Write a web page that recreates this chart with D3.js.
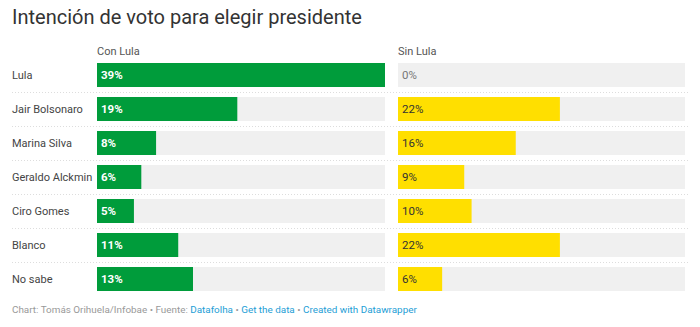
<!DOCTYPE html>
<html lang="es">
<head>
  <meta charset="UTF-8">
  <title>Intención de voto</title>
  <script src="https://d3js.org/d3.v7.min.js"></script>
  <style>
    body { margin: 0; background: #fff; font-family: Roboto, sans-serif; }
  </style>
</head>
<body>
  <div id="chart"></div>
  <script>
    // Data
    const candidates = ["Lula", "Jair Bolsonaro", "Marina Silva", "Geraldo Alckmin", "Ciro Gomes", "Blanco", "No sabe"];
    const conLula = [39, 19, 8, 6, 5, 11, 13];
    const sinLula = [0, 22, 16, 9, 10, 22, 6];
    const columns = ["Con Lula", "Sin Lula"];

    const width = 700, height = 327;
    const svg = d3.select("#chart").append("svg")
      .attr("width", width).attr("height", height);

    // Title
    svg.append("text")
      .attr("x", 12).attr("y", 24)
      .style("font-size", "20px")
      .attr("fill", "#333")
      .text("Intención de voto para elegir presidente");

    const y = d3.scaleBand()
      .domain(candidates)
      .range([58, 296])
      .paddingInner(0.294)
      .paddingOuter(0.147);

    const panels = [
      { name: columns[0], values: conLula, x0: 97, x1: 385, color: "#009c3b", text: "#fff", weight: "bold" },
      { name: columns[1], values: sinLula, x0: 398, x1: 685, color: "#ffdf00", text: "#333", weight: "normal" }
    ];

    // Row separators
    candidates.slice(0, -1).forEach(c => {
      const yy = y(c) + y.bandwidth() + (y.step() - y.bandwidth()) / 2;
      svg.append("line")
        .attr("x1", 12).attr("x2", 688)
        .attr("y1", Math.round(yy) + 0.5).attr("y2", Math.round(yy) + 0.5)
        .attr("stroke", "#ddd")
        .attr("stroke-dasharray", "1,2");
    });

    // Row labels
    svg.selectAll(".label")
      .data(candidates)
      .join("text")
      .attr("x", 12)
      .attr("y", d => y(d) + y.bandwidth() / 2)
      .attr("dy", "0.35em")
      .style("font-size", "11px")
      .attr("fill", "#444")
      .text(d => d);

    panels.forEach(p => {
      const x = d3.scaleLinear().domain([0, 39]).range([p.x0, p.x1]);
      const g = svg.append("g");

      g.append("text")
        .attr("x", p.x0).attr("y", 55)
        .style("font-size", "11px")
        .attr("fill", "#555")
        .text(p.name);

      g.selectAll(".bg")
        .data(candidates)
        .join("rect")
        .attr("x", p.x0)
        .attr("y", d => y(d))
        .attr("width", p.x1 - p.x0)
        .attr("height", y.bandwidth())
        .attr("fill", "#f0f0f0");

      g.selectAll(".bar")
        .data(p.values)
        .join("rect")
        .attr("x", p.x0)
        .attr("y", (d, i) => y(candidates[i]))
        .attr("width", d => x(d) - p.x0)
        .attr("height", y.bandwidth())
        .attr("fill", p.color);

      g.selectAll(".val")
        .data(p.values)
        .join("text")
        .attr("x", p.x0 + 4)
        .attr("y", (d, i) => y(candidates[i]) + y.bandwidth() / 2)
        .attr("dy", "0.35em")
        .style("font-size", "11.5px")
        .style("font-weight", d => d === 0 ? "normal" : p.weight)
        .attr("fill", d => d === 0 ? "#777" : p.text)
        .text(d => d + "%");
    });

    // Footer
    const foot = svg.append("text")
      .attr("x", 12).attr("y", 313)
      .style("font-size", "9.9px")
      .attr("fill", "#999");
    foot.append("tspan").text("Chart: Tomás Orihuela/Infobae • Fuente: ");
    foot.append("tspan").attr("fill", "#1d9ed6").text("Datafolha");
    foot.append("tspan").text(" • ");
    foot.append("tspan").attr("fill", "#1d9ed6").text("Get the data");
    foot.append("tspan").text(" • ");
    foot.append("tspan").attr("fill", "#1d9ed6").text("Created with Datawrapper");
  </script>
</body>
</html>
